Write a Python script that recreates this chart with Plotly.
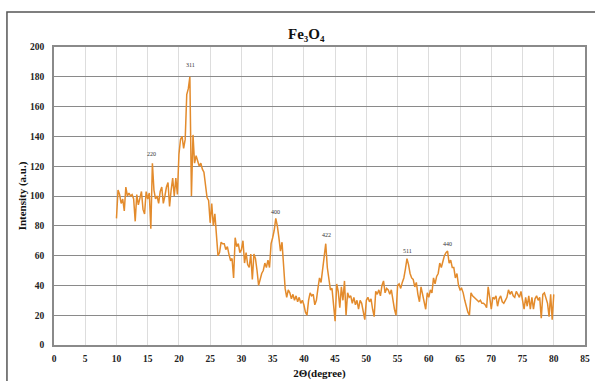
import plotly.graph_objects as go

start_deg = 10.0
step_deg = 0.25
intensity = [
    # 10.00 - 14.75
    85, 104, 101, 95, 98, 90, 106, 100, 102, 100, 101, 98, 83, 101, 94, 99, 103, 91, 88, 103,
    # 15.00 - 19.75
    98, 102, 78, 122, 104, 98, 100, 95, 103, 106, 95, 100, 106, 109, 93, 104, 112, 100, 112, 101,
    # 20.00 - 24.75
    128, 138, 140, 132, 138, 168, 172, 180, 100, 141, 122, 127, 124, 120, 122, 118, 116, 108, 99, 97,
    # 25.00 - 29.75
    82, 95, 80, 88, 70, 60, 62, 69, 68, 68, 64, 66, 61, 57, 58, 45, 72, 66, 68, 62,
    # 30.00 - 34.75
    64, 70, 55, 62, 54, 52, 61, 44, 61, 58, 50, 40, 44, 48, 50, 55, 52, 57, 52, 68,
    # 35.00 - 39.75
    72, 77, 85, 80, 72, 63, 69, 50, 38, 32, 37, 35, 31, 34, 30, 33, 29, 32, 28, 30,
    # 40.00 - 44.75
    27, 22, 20, 30, 35, 33, 34, 27, 30, 38, 45, 42, 52, 58, 68, 52, 45, 37, 38, 27,
    # 45.00 - 49.75
    16, 41, 36, 25, 39, 30, 43, 20, 35, 32, 33, 28, 32, 27, 30, 24, 30, 28, 22, 17,
    # 50.00 - 54.75
    30, 32, 29, 31, 24, 19, 36, 34, 37, 33, 40, 43, 35, 38, 37, 34, 37, 30, 24, 20,
    # 55.00 - 59.75
    40, 41, 38, 42, 45, 51, 58, 54, 48, 45, 44, 39, 42, 34, 29, 39, 34, 28, 24, 35,
    # 60.00 - 64.75
    32, 37, 35, 45, 41, 46, 48, 55, 52, 56, 60, 62, 63, 55, 57, 52, 52, 45, 48, 40,
    # 65.00 - 69.75
    37, 38, 35, 30, 25, 22, 20, 35, 33, 32, 31, 30, 29, 30, 28, 28, 27, 25, 39, 32,
    # 70.00 - 74.75
    24, 32, 31, 33, 26, 31, 33, 29, 28, 30, 32, 37, 34, 36, 33, 32, 36, 34, 32, 36,
    # 75.00 - 79.75
    30, 24, 32, 26, 33, 24, 32, 24, 31, 33, 30, 32, 18, 34, 35, 31, 28, 19, 34, 17,
    # 80.00
    34,
]
two_theta = [start_deg + step_deg * i for i in range(len(intensity))]

peak_labels = ["220", "311", "400", "422", "511", "440"]
peak_x = [15.6, 21.8, 35.5, 43.6, 56.6, 63.0]
peak_y = [128, 188, 89, 74, 63, 68]

x_ticks = list(range(0, 90, 5))
y_ticks = list(range(0, 220, 20))

SERIF = "Liberation Serif"

fig = go.Figure()
fig.add_trace(go.Scatter(
    x=two_theta, y=intensity, mode="lines",
    line=dict(color="#E38B2C", width=1.5),
    showlegend=False, hoverinfo="skip",
))

for lab, px, py in zip(peak_labels, peak_x, peak_y):
    fig.add_annotation(x=px, y=py, text=lab, showarrow=False,
                       font=dict(family=SERIF, size=6, color="#333333"))

fig.add_annotation(x=0.475, y=1.045, xref="paper", yref="paper", text="<b>Fe₃O₄</b>",
                   showarrow=False, font=dict(family=SERIF, size=15, color="#111111"),
                   xanchor="center", yanchor="middle")

# outer frame of the original picture
fig.add_shape(type="rect", xref="paper", yref="paper",
              x0=-0.0886, y0=-0.16, x1=1.03, y1=1.1176,
              line=dict(color="#555555", width=1.5), fillcolor="rgba(0,0,0,0)", layer="below")

fig.update_layout(
    width=595, height=381,
    margin=dict(l=54, r=10.3, t=47, b=36.3),
    paper_bgcolor="white", plot_bgcolor="white",
    xaxis=dict(
        range=[0, 85], tickvals=x_ticks, ticktext=[f"<b>{t}</b>" for t in x_ticks],
        showgrid=True, gridcolor="#dddddd", gridwidth=1,
        showline=True, linecolor="#8a8a8a", linewidth=1.5, mirror=True,
        ticks="", zeroline=False, ticklabelstandoff=4, automargin=False,
        tickfont=dict(family=SERIF, size=9.5, color="#222222"),
        title=dict(text="<b>2Θ(degree)</b>", font=dict(family=SERIF, size=11, color="#111111"), standoff=6),
    ),
    yaxis=dict(
        range=[0, 200], tickvals=y_ticks, ticktext=[f"<b>{t}</b>" for t in y_ticks],
        showgrid=True, gridcolor="#8a8a8a", gridwidth=1.2,
        showline=True, linecolor="#8a8a8a", linewidth=1.5, mirror=True,
        ticks="", zeroline=False, ticklabelstandoff=6, automargin=False,
        tickfont=dict(family=SERIF, size=9.5, color="#222222"),
        title=dict(text="<b>Intensity (a.u.)</b>", font=dict(family=SERIF, size=11, color="#111111"), standoff=1),
    ),
)

fig.write_html("out.html")
